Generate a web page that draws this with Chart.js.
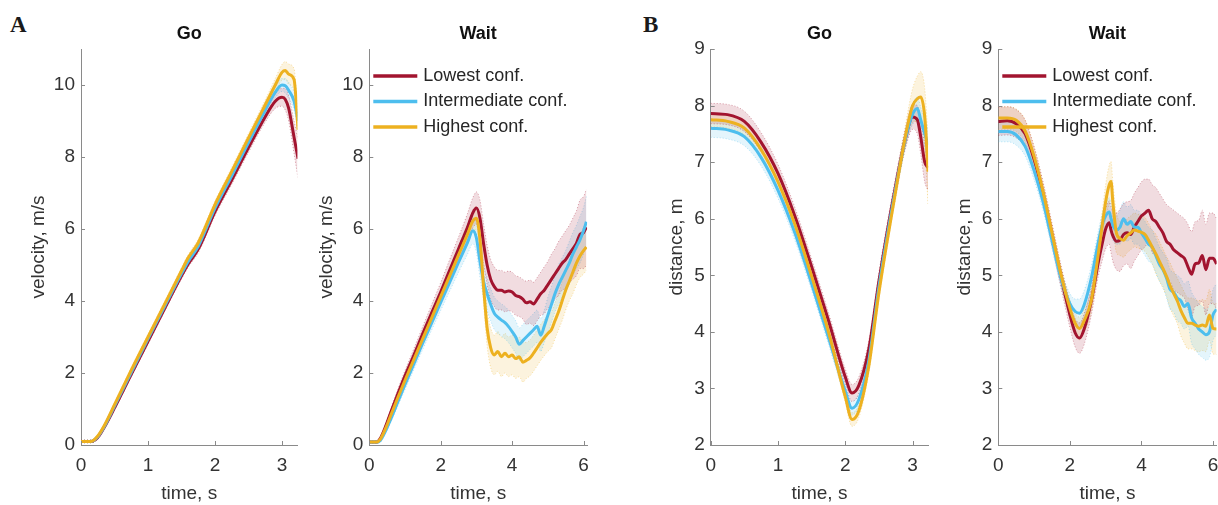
<!DOCTYPE html>
<html><head><meta charset="utf-8">
<script src="https://cdn.jsdelivr.net/npm/chart.js@4.4.1/dist/chart.umd.min.js"></script>
<style>
html,body{margin:0;padding:0;background:#fff;overflow:hidden;width:1218px;height:505px;position:relative;}
canvas{position:absolute;top:0;}
.lbl{position:absolute;font-family:'Liberation Serif','DejaVu Serif',serif;font-weight:bold;font-size:23px;line-height:23px;color:#1a1a1a;}
</style></head><body>
<div class="lbl" style="left:10px;top:13px">A</div>
<div class="lbl" style="left:643px;top:13px">B</div>
<canvas id="c1" width="305" height="505" style="left:0px"></canvas>
<canvas id="c2" width="335" height="505" style="left:305px"></canvas>
<canvas id="c3" width="300" height="505" style="left:640px"></canvas>
<canvas id="c4" width="300" height="505" style="left:940px"></canvas>
<script>
// ---------- labels ----------
const legendLabels = ['Lowest conf.', 'Intermediate conf.', 'Highest conf.'];
const panelTitles = ['Go', 'Wait', 'Go', 'Wait'];
const xTitle = 'time, s';
const yTitleVel = 'velocity, m/s';
const yTitleDist = 'distance, m';
const xTicksGo = [0, 1, 2, 3];
const xTicksWait = [0, 2, 4, 6];
const yTicksVel = [0, 2, 4, 6, 8, 10];
const yTicksDist = [2, 3, 4, 5, 6, 7, 8, 9];

// ---------- A: velocity, Go ----------
const timeVelGo = [0, 0.15, 0.25, 0.35, 0.5, 0.75, 1.0, 1.25, 1.5, 1.6, 1.75, 2.0, 2.25, 2.5, 2.75, 2.9, 3.0, 3.05, 3.1, 3.18, 3.24];
const velGoLowest = [0.1, 0.1, 0.21, 0.5, 1.03, 1.96, 2.88, 3.8, 4.7, 5.03, 5.44, 6.48, 7.36, 8.26, 9.12, 9.55, 9.66, 9.6, 9.35, 8.55, 7.95];
const velGoInter = [0.1, 0.1, 0.23, 0.52, 1.08, 2.02, 2.95, 3.86, 4.76, 5.1, 5.52, 6.58, 7.48, 8.4, 9.3, 9.8, 10.0, 9.98, 9.85, 9.55, 9.0];
const velGoHighest = [0.1, 0.1, 0.25, 0.55, 1.12, 2.08, 3.0, 3.92, 4.84, 5.2, 5.62, 6.68, 7.6, 8.53, 9.45, 10.0, 10.35, 10.4, 10.3, 10.15, 8.75];
const velGoLowestCI = [0.04,0.04,0.05,0.05,0.06,0.07,0.08,0.08,0.09,0.09,0.1,0.11,0.12,0.13,0.15,0.2,0.25,0.3,0.35,0.45,0.55];
const velGoInterCI = [0.04,0.04,0.04,0.05,0.05,0.06,0.07,0.07,0.08,0.08,0.08,0.09,0.1,0.11,0.12,0.15,0.18,0.2,0.22,0.25,0.3];
const velGoHighestCI = [0.04,0.04,0.05,0.05,0.06,0.07,0.08,0.08,0.09,0.09,0.1,0.1,0.11,0.12,0.14,0.18,0.22,0.25,0.28,0.3,0.35];

// ---------- A: velocity, Wait ----------
const timeVelWait = [0, 0.2, 0.3, 0.45, 0.6, 0.8, 1.0, 1.25, 1.5, 1.75, 2.0, 2.25, 2.5, 2.75, 2.9, 3.0, 3.1, 3.2, 3.3, 3.4, 3.5, 3.6, 3.7, 3.8, 3.9, 4.0, 4.1, 4.2, 4.3, 4.4, 4.5, 4.6, 4.7, 4.8, 4.9, 5.0, 5.1, 5.2, 5.3, 5.4, 5.5, 5.6, 5.7, 5.8, 5.9, 6.0, 6.08];
const velWaitLowest = [0.08, 0.08, 0.17, 0.5, 0.9, 1.42, 1.92, 2.5, 3.1, 3.68, 4.25, 4.85, 5.45, 6.05, 6.45, 6.58, 6.3, 5.6, 5.0, 4.6, 4.4, 4.3, 4.3, 4.25, 4.28, 4.25, 4.15, 4.12, 4.05, 3.95, 3.98, 3.92, 4.05, 4.2, 4.3, 4.45, 4.6, 4.75, 4.9, 5.05, 5.15, 5.3, 5.45, 5.6, 5.85, 5.9, 6.05];
const velWaitInter = [0.08, 0.08, 0.12, 0.38, 0.72, 1.2, 1.68, 2.26, 2.84, 3.4, 3.96, 4.52, 5.08, 5.62, 5.95, 5.75, 5.1, 4.55, 4.2, 3.9, 3.66, 3.55, 3.47, 3.4, 3.29, 3.15, 3.0, 2.8, 2.9, 3.0, 3.1, 3.2, 3.3, 3.05, 3.3, 3.6, 3.9, 4.2, 4.45, 4.65, 4.85, 5.05, 5.3, 5.5, 5.7, 5.95, 6.2];
const velWaitHighest = [0.08, 0.08, 0.15, 0.45, 0.82, 1.32, 1.8, 2.38, 2.96, 3.54, 4.12, 4.7, 5.28, 5.86, 6.22, 6.3, 5.7, 4.4, 3.25, 2.7, 2.5, 2.6, 2.45, 2.55, 2.45, 2.5, 2.4, 2.45, 2.3, 2.35, 2.42, 2.55, 2.7, 2.85, 2.98, 3.1, 3.2, 3.45, 3.7, 4.0, 4.3, 4.55, 4.8, 5.05, 5.25, 5.4, 5.5];
const velWaitLowestCI = [0.03,0.03,0.05,0.08,0.1,0.13,0.15,0.18,0.2,0.23,0.26,0.3,0.33,0.38,0.42,0.45,0.5,0.55,0.55,0.55,0.55,0.55,0.55,0.55,0.55,0.55,0.55,0.55,0.55,0.6,0.6,0.6,0.6,0.6,0.65,0.65,0.7,0.7,0.75,0.75,0.8,0.8,0.85,0.9,0.95,1.0,1.05];
const velWaitInterCI = [0.03,0.03,0.05,0.07,0.09,0.12,0.14,0.16,0.18,0.2,0.22,0.25,0.28,0.32,0.36,0.4,0.45,0.45,0.45,0.45,0.45,0.45,0.45,0.45,0.45,0.45,0.45,0.45,0.45,0.45,0.45,0.45,0.45,0.45,0.45,0.5,0.5,0.5,0.55,0.55,0.55,0.6,0.6,0.6,0.65,0.65,0.7];
const velWaitHighestCI = [0.03,0.03,0.05,0.07,0.08,0.1,0.12,0.14,0.16,0.18,0.2,0.22,0.25,0.28,0.3,0.32,0.4,0.45,0.5,0.55,0.55,0.55,0.55,0.55,0.55,0.55,0.55,0.55,0.55,0.5,0.5,0.5,0.5,0.5,0.5,0.5,0.5,0.5,0.5,0.55,0.55,0.55,0.6,0.6,0.6,0.65,0.65];

// ---------- B: distance, Go ----------
const timeDistGo = [0, 0.25, 0.5, 0.75, 1.0, 1.25, 1.5, 1.75, 2.0, 2.1, 2.2, 2.35, 2.5, 2.75, 2.9, 3.0, 3.07, 3.12, 3.18, 3.23];
const distGoLowest = [7.86, 7.84, 7.72, 7.35, 6.8, 6.05, 5.15, 4.2, 3.2, 2.92, 3.05, 3.7, 4.9, 6.6, 7.45, 7.8, 7.75, 7.45, 7.0, 6.9];
const distGoInter = [7.6, 7.57, 7.45, 7.08, 6.5, 5.75, 4.85, 3.9, 2.95, 2.65, 2.8, 3.5, 4.8, 6.55, 7.45, 7.85, 7.95, 7.75, 7.5, 7.3];
const distGoHighest = [7.75, 7.72, 7.6, 7.22, 6.65, 5.9, 4.98, 4.0, 2.85, 2.45, 2.6, 3.4, 4.7, 6.5, 7.5, 8.0, 8.12, 8.15, 7.8, 6.83];
const distGoLowestCI = [0.18,0.18,0.18,0.17,0.16,0.15,0.14,0.14,0.14,0.15,0.15,0.15,0.15,0.15,0.18,0.22,0.25,0.3,0.35,0.4];
const distGoInterCI = [0.16,0.16,0.16,0.15,0.14,0.13,0.12,0.12,0.12,0.12,0.12,0.12,0.12,0.13,0.15,0.18,0.2,0.22,0.25,0.3];
const distGoHighestCI = [0.12,0.12,0.12,0.12,0.11,0.1,0.1,0.1,0.1,0.12,0.12,0.12,0.12,0.13,0.2,0.3,0.4,0.45,0.5,0.6];

// ---------- B: distance, Wait ----------
const timeDistWait = [0, 0.25, 0.5, 0.75, 1.0, 1.25, 1.5, 1.75, 2.0, 2.15, 2.27, 2.4, 2.6, 2.8, 2.9, 3.0, 3.1, 3.15, 3.2, 3.3, 3.4, 3.5, 3.6, 3.7, 3.8, 3.9, 4.0, 4.1, 4.2, 4.3, 4.4, 4.5, 4.6, 4.7, 4.8, 4.9, 5.0, 5.1, 5.2, 5.3, 5.4, 5.5, 5.6, 5.7, 5.8, 5.9, 6.0, 6.1];
const distWaitLowest = [7.72, 7.73, 7.68, 7.5, 7.05, 6.45, 5.72, 4.98, 4.3, 3.98, 3.89, 4.05, 4.55, 5.25, 5.55, 5.82, 5.93, 5.8, 5.7, 5.6, 5.62, 5.72, 5.75, 5.72, 5.85, 5.95, 6.05, 6.1, 6.15, 6.0, 5.95, 5.85, 5.75, 5.6, 5.55, 5.45, 5.4, 5.35, 5.3, 5.15, 5.02, 5.2, 5.22, 5.35, 5.1, 5.3, 5.3, 5.2];
const distWaitInter = [7.54, 7.54, 7.48, 7.28, 6.85, 6.3, 5.62, 4.95, 4.5, 4.36, 4.33, 4.48, 4.95, 5.6, 5.88, 6.05, 6.12, 6.0, 5.88, 5.8, 5.85, 6.0, 5.9, 5.95, 5.85, 5.85, 5.75, 5.65, 5.55, 5.5, 5.35, 5.2, 5.1, 4.95, 4.75, 4.7, 4.6, 4.55, 4.45, 4.5, 4.25, 4.15, 4.05, 4.0, 3.95, 4.0, 4.3, 4.4];
const distWaitHighest = [7.78, 7.78, 7.74, 7.55, 7.1, 6.48, 5.75, 5.02, 4.42, 4.15, 4.06, 4.2, 4.56, 5.4, 5.86, 6.3, 6.6, 6.66, 6.3, 5.75, 5.65, 5.62, 5.7, 5.75, 5.8, 5.78, 5.76, 5.72, 5.62, 5.5, 5.38, 5.25, 5.12, 4.98, 4.82, 4.68, 4.55, 4.38, 4.25, 4.15, 4.15, 4.12, 4.1, 4.12, 4.1, 4.3, 4.06, 4.05];
const distWaitLowestCI = [0.25,0.25,0.25,0.24,0.22,0.2,0.2,0.2,0.22,0.25,0.27,0.27,0.25,0.25,0.3,0.35,0.38,0.4,0.45,0.5,0.55,0.55,0.55,0.6,0.6,0.6,0.6,0.6,0.55,0.6,0.6,0.6,0.6,0.65,0.65,0.7,0.7,0.7,0.7,0.75,0.75,0.75,0.75,0.8,0.8,0.8,0.8,0.8];
const distWaitInterCI = [0.18,0.18,0.18,0.17,0.16,0.15,0.15,0.15,0.18,0.22,0.25,0.25,0.22,0.2,0.2,0.22,0.25,0.25,0.25,0.25,0.3,0.3,0.3,0.3,0.3,0.3,0.3,0.3,0.3,0.3,0.3,0.3,0.3,0.35,0.35,0.35,0.4,0.4,0.4,0.4,0.45,0.45,0.45,0.45,0.45,0.45,0.45,0.45];
const distWaitHighestCI = [0.2,0.2,0.2,0.2,0.18,0.16,0.15,0.15,0.15,0.18,0.2,0.2,0.2,0.22,0.25,0.3,0.35,0.35,0.35,0.35,0.3,0.3,0.3,0.3,0.3,0.3,0.3,0.3,0.3,0.3,0.35,0.35,0.35,0.35,0.4,0.4,0.4,0.45,0.45,0.45,0.45,0.45,0.45,0.45,0.45,0.45,0.45,0.45];

// ---------- styling ----------
const seriesRGB = [[162, 20, 47], [77, 190, 238], [237, 177, 32]];
const FONT = "'Liberation Sans', Arial, sans-serif";
const TICK_COLOR = '#333333';
const AXIS_COLOR = '#8a8a8a';
const rgba = (c, a) => `rgba(${c[0]},${c[1]},${c[2]},${a})`;

function buildDatasets(times, values, cis) {
  const bands = [], lines = [];
  values.forEach((vals, k) => {
    const c = seriesRGB[k];
    const ci = cis[k];
    const common = {pointRadius: 0, cubicInterpolationMode: 'monotone', borderDash: [1, 2], borderWidth: 0.8, borderColor: rgba(c, 0.5), order: 10 + k};
    bands.push(Object.assign({}, common, {data: times.map((t, i) => ({x: t, y: vals[i] + ci[i]})), fill: '+1', backgroundColor: rgba(c, 0.15)}));
    bands.push(Object.assign({}, common, {data: times.map((t, i) => ({x: t, y: vals[i] - ci[i]})), fill: false}));
  });
  values.forEach((vals, k) => {
    lines.push({label: legendLabels[k], data: times.map((t, i) => ({x: t, y: vals[i]})), borderColor: rgba(seriesRGB[k], 1), borderWidth: 3, pointRadius: 0, fill: false, cubicInterpolationMode: 'monotone', order: 2 - k});
  });
  return bands.concat(lines);
}

const inwardTicks = {
  id: 'inwardTicks',
  afterDatasetsDraw(chart) {
    const {ctx, chartArea, scales: {x, y}} = chart;
    ctx.save();
    ctx.strokeStyle = AXIS_COLOR; ctx.lineWidth = 1;
    x.ticks.forEach(t => { const p = Math.round(x.getPixelForValue(t.value)) + 0.5; ctx.beginPath(); ctx.moveTo(p, chartArea.bottom); ctx.lineTo(p, chartArea.bottom - 4); ctx.stroke(); });
    y.ticks.forEach(t => { const p = Math.round(y.getPixelForValue(t.value)) + 0.5; ctx.beginPath(); ctx.moveTo(chartArea.left, p); ctx.lineTo(chartArea.left + 4, p); ctx.stroke(); });
    ctx.restore();
  }
};

const insideLegend = {
  id: 'insideLegend',
  afterDatasetsDraw(chart, args, opts) {
    if (!opts.show) return;
    const {ctx, chartArea} = chart;
    ctx.save();
    ctx.font = `18px ${FONT}`;
    ctx.textBaseline = 'middle';
    ctx.textAlign = 'left';
    legendLabels.forEach((lab, i) => {
      const yy = chartArea.top + 27 + i * 25.5;
      ctx.strokeStyle = rgba(seriesRGB[i], 1); ctx.lineWidth = 3.5;
      ctx.beginPath(); ctx.moveTo(chartArea.left + 4, yy); ctx.lineTo(chartArea.left + 48, yy); ctx.stroke();
      ctx.fillStyle = '#262626';
      ctx.fillText(lab, chartArea.left + 54, yy);
    });
    ctx.restore();
  }
};

function makeChart(id, cfg) {
  const fontTick = {family: FONT, size: 19};
  new Chart(document.getElementById(id), {
    type: 'line',
    data: {datasets: buildDatasets(cfg.times, cfg.values, cfg.cis)},
    options: {
      responsive: false, animation: false, events: [],
      layout: {padding: {left: 0, right: cfg.padRight, top: 0, bottom: 0}},
      plugins: {
        legend: {display: false}, tooltip: {enabled: false},
        title: {display: true, fullSize: false, text: cfg.title, color: '#111', font: {family: FONT, size: 18, weight: 'bold'}, padding: {top: 23.2, bottom: 4.2}},
        insideLegend: {show: cfg.legend}
      },
      scales: {
        x: {
          type: 'linear', min: 0, max: cfg.xMax,
          afterBuildTicks: s => { s.ticks = cfg.xTicks.map(v => ({value: v})); },
          afterFit: s => { s.height = 60; s.paddingLeft = 0; s.paddingRight = 0; },
          grid: {display: false, drawTicks: false},
          border: {display: true, color: AXIS_COLOR, width: 1},
          ticks: {padding: 9, font: fontTick, color: TICK_COLOR, maxRotation: 0},
          title: {display: true, text: xTitle, font: fontTick, color: TICK_COLOR, padding: {top: 0, bottom: 0}}
        },
        y: {
          type: 'linear', min: cfg.yMin, max: cfg.yMax,
          afterBuildTicks: s => { s.ticks = cfg.yTicks.map(v => ({value: v})); },
          afterFit: s => { s.width = cfg.yWidth; s.paddingTop = 0; s.paddingBottom = 0; },
          grid: {display: false, drawTicks: false},
          border: {display: true, color: AXIS_COLOR, width: 1},
          ticks: {padding: 6, font: fontTick, color: TICK_COLOR},
          title: {display: true, text: cfg.yTitle, font: fontTick, color: TICK_COLOR, padding: {top: cfg.yTitlePad, bottom: 0}}
        }
      }
    },
    plugins: [inwardTicks, insideLegend]
  });
}

makeChart('c1', {times: timeVelGo, values: [velGoLowest, velGoInter, velGoHighest], cis: [velGoLowestCI, velGoInterCI, velGoHighestCI],
  title: panelTitles[0], xMax: 3.23, xTicks: xTicksGo, yMin: 0, yMax: 11, yTicks: yTicksVel, yTitle: yTitleVel, yWidth: 81, yTitlePad: 27.1, padRight: 7.6, legend: false});
makeChart('c2', {times: timeVelWait, values: [velWaitLowest, velWaitInter, velWaitHighest], cis: [velWaitLowestCI, velWaitInterCI, velWaitHighestCI],
  title: panelTitles[1], xMax: 6.1, xTicks: xTicksWait, yMin: 0, yMax: 11, yTicks: yTicksVel, yTitle: yTitleVel, yWidth: 64.3, yTitlePad: 10.6, padRight: 52.9, legend: true});
makeChart('c3', {times: timeDistGo, values: [distGoLowest, distGoInter, distGoHighest], cis: [distGoLowestCI, distGoInterCI, distGoHighestCI],
  title: panelTitles[2], xMax: 3.23, xTicks: xTicksGo, yMin: 2, yMax: 9, yTicks: yTicksDist, yTitle: yTitleDist, yWidth: 70.7, yTitlePad: 25.1, padRight: 11.9, legend: false});
makeChart('c4', {times: timeDistWait, values: [distWaitLowest, distWaitInter, distWaitHighest], cis: [distWaitLowestCI, distWaitInterCI, distWaitHighestCI],
  title: panelTitles[3], xMax: 6.1, xTicks: xTicksWait, yMin: 2, yMax: 9, yTicks: yTicksDist, yTitle: yTitleDist, yWidth: 58.3, yTitlePad: 13.6, padRight: 23.4, legend: true});
</script>
</body></html>
